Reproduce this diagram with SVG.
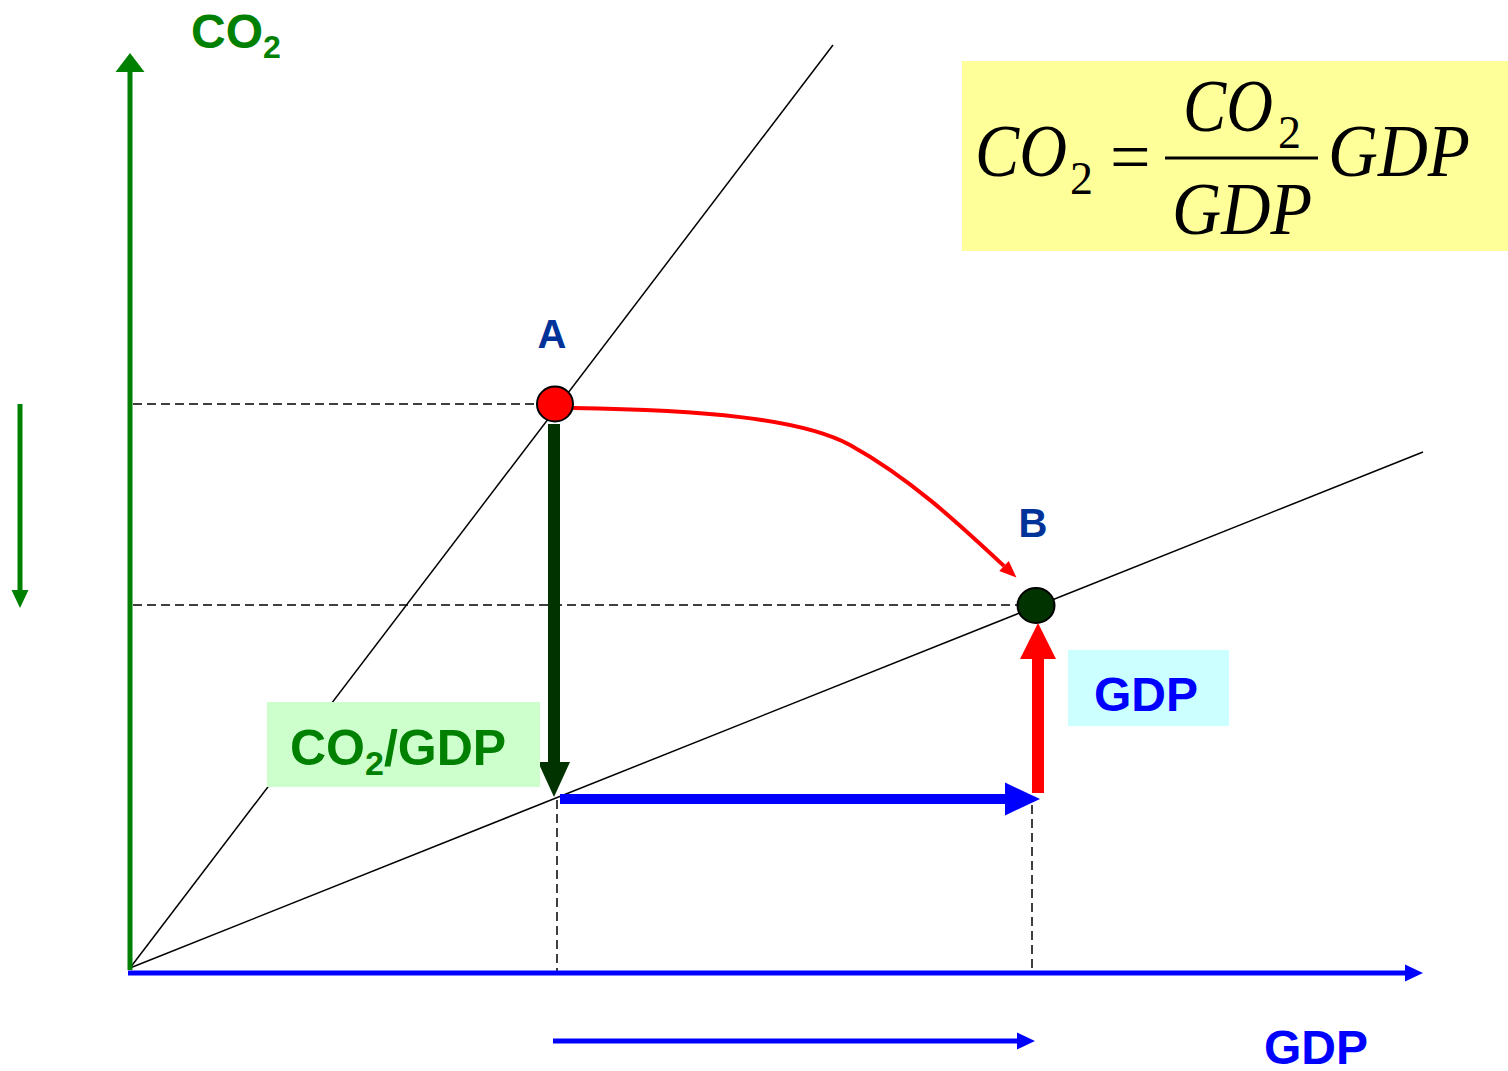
<svg xmlns="http://www.w3.org/2000/svg" width="1508" height="1071" viewBox="0 0 1508 1071">
<style>
.lbl{font-family:"Liberation Sans",Arial,sans-serif;font-weight:bold}
.math{font-family:"Liberation Serif","Times New Roman",serif}
.dash{stroke:#000;stroke-width:1.5;stroke-dasharray:9 5;fill:none}
.thin{stroke:#000;stroke-width:1.5;fill:none}
</style>
<defs>
<marker id="hGreenAxis" markerUnits="userSpaceOnUse" orient="auto" markerWidth="19" markerHeight="29" refX="0" refY="14.5" overflow="visible"><path d="M0,0 L19,14.5 L0,29 Z" fill="#008000"/></marker>
<marker id="hBlueAxis" markerUnits="userSpaceOnUse" orient="auto" markerWidth="18" markerHeight="17" refX="0" refY="8.5" overflow="visible"><path d="M0,0 L18,8.5 L0,17 Z" fill="#0000ff"/></marker>
<marker id="hSmallGreen" markerUnits="userSpaceOnUse" orient="auto" markerWidth="18" markerHeight="17" refX="0" refY="8.5" overflow="visible"><path d="M0,0 L18,8.5 L0,17 Z" fill="#008000"/></marker>
<marker id="hDark" markerUnits="userSpaceOnUse" orient="auto" markerWidth="35" markerHeight="32" refX="0" refY="16" overflow="visible"><path d="M0,0 L35,16 L0,32 Z" fill="#003300"/></marker>
<marker id="hBlueThick" markerUnits="userSpaceOnUse" orient="auto" markerWidth="35" markerHeight="33" refX="0" refY="16.5" overflow="visible"><path d="M0,0 L35,16.5 L0,33 Z" fill="#0000ff"/></marker>
<marker id="hRed" markerUnits="userSpaceOnUse" orient="auto" markerWidth="36" markerHeight="36" refX="0" refY="18" overflow="visible"><path d="M0,0 L36,18 L0,36 Z" fill="#ff0000"/></marker>
<marker id="hRedSmall" markerUnits="userSpaceOnUse" orient="auto" markerWidth="17" markerHeight="14" refX="0" refY="7" overflow="visible"><path d="M0,0 L17,7 L0,14 Z" fill="#ff0000"/></marker>
</defs>
<rect width="1508" height="1071" fill="#ffffff"/>

<g id="formula">
<rect x="962" y="61" width="546" height="190" fill="#ffff99"/>
<text class="math" font-style="italic" font-size="74" x="975" y="176" textLength="92" lengthAdjust="spacingAndGlyphs">CO</text>
<text class="math" font-size="46" x="1070" y="194">2</text>
<text class="math" font-size="72" x="1110" y="181">=</text>
<line x1="1165" y1="158" x2="1318" y2="158" stroke="#000" stroke-width="3"/>
<text class="math" font-style="italic" font-size="74" x="1183" y="131" textLength="90" lengthAdjust="spacingAndGlyphs">CO</text>
<text class="math" font-size="46" x="1278" y="148">2</text>
<text class="math" font-style="italic" font-size="74" x="1172" y="234" textLength="140" lengthAdjust="spacingAndGlyphs">GDP</text>
<text class="math" font-style="italic" font-size="74" x="1328" y="176" textLength="142" lengthAdjust="spacingAndGlyphs">GDP</text>
</g>

<g id="connectors">
<line class="thin" x1="130" y1="968" x2="833" y2="45"/>
<line class="thin" x1="130" y1="968" x2="1423" y2="452"/>
<line class="dash" x1="133" y1="404" x2="537" y2="404"/>
<line class="dash" x1="133" y1="605" x2="1017" y2="605"/>
<line class="dash" x1="557" y1="800" x2="557" y2="971"/>
<line class="dash" x1="1032" y1="805" x2="1032" y2="971"/>
<line x1="130" y1="970" x2="130" y2="72" stroke="#008000" stroke-width="5" marker-end="url(#hGreenAxis)"/>
<line x1="128" y1="973" x2="1405" y2="973" stroke="#0000ff" stroke-width="5" marker-end="url(#hBlueAxis)"/>
<line x1="20" y1="404" x2="20" y2="590" stroke="#008000" stroke-width="5" marker-end="url(#hSmallGreen)"/>
<line x1="553" y1="1041" x2="1017" y2="1041" stroke="#0000ff" stroke-width="5" marker-end="url(#hBlueAxis)"/>
<line x1="554" y1="424" x2="554" y2="762" stroke="#003300" stroke-width="12" marker-end="url(#hDark)"/>
<line x1="560" y1="799" x2="1005" y2="799" stroke="#0000ff" stroke-width="10" marker-end="url(#hBlueThick)"/>
<line x1="1038" y1="793" x2="1038" y2="659" stroke="#ff0000" stroke-width="12" marker-end="url(#hRed)"/>
<path d="M573,408 C700,410 800,418 850,445 C910,478 960,525 1004,566" fill="none" stroke="#ff0000" stroke-width="4" marker-end="url(#hRedSmall)"/>
</g>

<g id="pointA">
<ellipse cx="555" cy="404" rx="18" ry="17.5" fill="#ff0000" stroke="#000" stroke-width="2"/>
<text class="lbl" font-size="40" fill="#003399" x="552" y="348" text-anchor="middle">A</text>
</g>
<g id="pointB">
<ellipse cx="1036" cy="605.5" rx="18.5" ry="17.5" fill="#003300" stroke="#000" stroke-width="2"/>
<text class="lbl" font-size="40" fill="#003399" x="1033" y="537" text-anchor="middle">B</text>
</g>

<g id="labelCO2axis">
<text class="lbl" font-size="48" fill="#008000" x="191" y="48">CO<tspan font-size="32" dy="10">2</tspan></text>
</g>
<g id="labelIntensity">
<rect x="267" y="702" width="273" height="85" fill="#ccffcc"/>
<text class="lbl" font-size="50" fill="#008000" x="290" y="765">CO<tspan font-size="34" dy="10">2</tspan><tspan dy="-10">/GDP</tspan></text>
</g>
<g id="labelGDPbox">
<rect x="1068" y="650" width="161" height="76" fill="#ccffff"/>
<text class="lbl" font-size="48" fill="#0000ff" x="1146" y="711" text-anchor="middle">GDP</text>
</g>
<g id="labelGDPaxis">
<text class="lbl" font-size="48" fill="#0000ff" x="1316" y="1064" text-anchor="middle">GDP</text>
</g>
</svg>
